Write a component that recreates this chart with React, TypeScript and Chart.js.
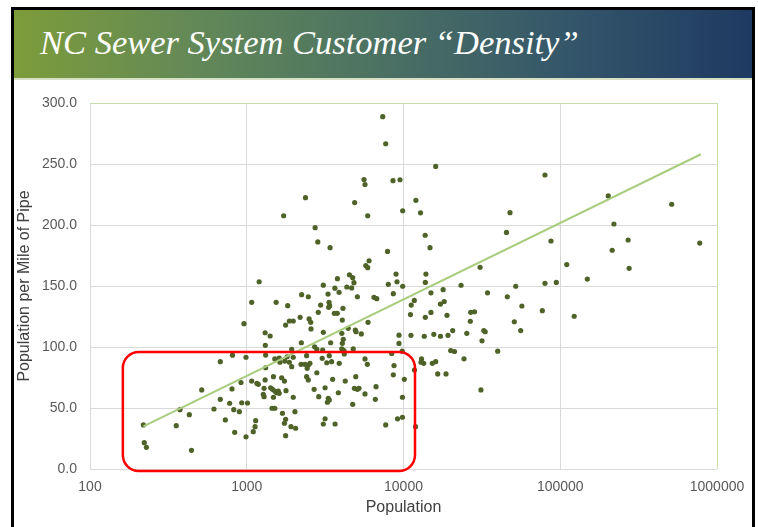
import React, { useEffect, useRef } from "react";
import { Chart, registerables } from "chart.js";

Chart.register(...registerables);

// Population served by each sewer system (x) and population per mile of pipe (y)
const population = [
  7370, 7700, 16050, 79900, 5600, 5680, 8570, 9500, 2370, 4880,
  12000, 202500, 514000, 1720, 5910, 9880, 12840, 47800, 2730, 220000,
  13750, 45400, 2840, 3400, 14760, 87300, 271000, 776000, 7910, 214500,
  6030, 5750, 5910, 30800, 110000, 275000, 8960, 13900, 4520, 4740,
  3790, 148800, 1200, 4830, 9090, 13780, 79900, 94400, 3080, 8000,
  23300, 3650, 4350, 4670, 9880, 52000, 17900, 3880, 8610, 14970,
  34350, 2240, 2470, 3300, 5080, 6480, 6750, 45950, 11720, 1075,
  1540, 1825, 2960, 3350, 3380, 3330, 4110, 11200, 18200, 17200,
  56900, 2860, 3620, 3780, 11080, 14970, 26840, 28380, 76850, 2190,
  2500, 2560, 4070, 1870, 1980, 1770, 960, 5940, 13780, 18940,
  26680, 50930, 122700, 2570, 4440, 4930, 4980, 3080, 4040, 5380,
  1310, 1410, 9360, 11160, 13570, 15610, 17220, 19220, 20600, 25340,
  32530, 33200, 55940, 31680, 2230, 3430, 4130, 4070, 9360, 1313,
  1935, 2710, 2800, 3050, 4040, 4170, 4780, 9820, 8410, 20000,
  21160, 39900, 989, 1320, 1510, 1610, 1810, 1750, 1980, 2410,
  3030, 3360, 4190, 5680, 811, 678, 3240, 3480, 3890, 5880,
  8700, 1630, 1870, 2220, 2350, 2470, 2530, 1935, 2430, 1320,
  2800, 8610, 13030, 12930, 13460, 15270, 16050, 24320, 11750, 16530,
  18670, 1480, 1670, 2410, 4960, 919, 1075, 1160, 1185, 1310,
  1740, 2470, 3530, 4250, 10120, 6680, 1290, 1275, 1290, 1420,
  1460, 1510, 1550, 1590, 1610, 1480, 1780, 2690, 3160, 3840,
  4860, 5080, 5200, 5680, 1980, 2880, 3310, 3270, 3360, 6610,
  9850, 31200, 1011, 4740, 1450, 1510, 1690, 2030, 1140, 1130,
  1100, 1770, 1740, 1915, 2050, 3160, 3080, 3660, 7700, 9160,
  9850, 989, 1770, 11930, 516, 805, 678, 778, 929, 618,
  826, 897, 375, 430, 730, 219, 355, 838, 222, 229,
  444,
];

const populationPerMile = [
  288.8, 266.6, 248.0, 241.0, 237.3, 233.2, 236.3, 237.1, 222.4, 218.4,
  220.2, 223.8, 217.0, 207.6, 207.6, 211.7, 210.0, 210.1, 197.8, 200.8,
  191.6, 193.9, 186.1, 181.4, 181.4, 186.9, 187.7, 185.2, 178.3, 179.3,
  170.7, 166.8, 165.0, 165.3, 167.6, 164.5, 159.8, 159.8, 159.2, 156.8,
  156.0, 155.7, 153.5, 152.7, 153.5, 152.9, 152.2, 152.9, 150.7, 151.4,
  150.6, 148.2, 149.2, 148.4, 149.8, 149.8, 147.0, 144.8, 143.7, 144.4,
  144.4, 142.9, 141.2, 143.4, 141.2, 140.7, 139.6, 141.2, 138.2, 136.6,
  136.6, 133.9, 134.4, 136.6, 133.9, 132.5, 131.7, 134.4, 137.3, 135.2,
  133.6, 128.4, 127.6, 127.6, 126.6, 128.3, 128.4, 128.9, 129.8, 124.3,
  123.0, 120.2, 122.1, 121.3, 121.3, 118.0, 119.1, 120.2, 124.3, 126.0,
  121.1, 120.7, 125.2, 114.8, 115.3, 113.9, 112.5, 112.0, 111.2, 110.7,
  111.7, 109.0, 109.7, 109.6, 108.8, 110.4, 108.8, 109.6, 113.5, 111.2,
  113.5, 112.5, 113.5, 105.1, 103.5, 103.5, 106.3, 103.0, 102.9, 101.4,
  98.1, 100.2, 98.1, 97.5, 98.4, 97.0, 98.4, 96.6, 94.7, 97.1,
  96.3, 96.6, 91.6, 93.4, 90.2, 91.0, 92.0, 88.5, 91.6, 92.9,
  90.7, 92.9, 94.3, 90.2, 93.3, 88.0, 87.1, 88.0, 86.6, 85.8,
  84.8, 87.5, 87.5, 85.8, 85.8, 85.2, 86.6, 83.9, 82.5, 83.0,
  78.9, 77.2, 90.2, 87.5, 86.6, 86.6, 88.0, 90.3, 81.1, 77.9,
  77.9, 75.7, 74.8, 75.7, 75.7, 70.9, 72.1, 70.2, 69.4, 73.0,
  72.1, 73.0, 73.5, 72.1, 73.5, 67.5, 66.1, 61.2, 59.3, 66.6,
  65.3, 63.9, 62.5, 63.9, 62.0, 58.8, 64.2, 65.3, 66.6, 62.5,
  66.1, 65.3, 66.1, 61.5, 58.8, 59.3, 58.0, 54.7, 56.6, 57.1,
  58.8, 64.8, 54.1, 53.0, 49.8, 49.8, 45.7, 47.0, 39.6, 34.7,
  30.6, 40.7, 37.5, 34.7, 33.4, 41.2, 36.9, 36.9, 36.1, 41.1,
  42.4, 26.4, 27.3, 34.7, 64.8, 65.6, 57.1, 53.9, 54.3, 49.2,
  48.6, 47.0, 48.6, 44.5, 40.2, 36.1, 35.5, 30.1, 21.6, 17.8,
  15.3,
];

// Logarithmic trendline endpoints (straight on a log x axis)
const trendPopulation = [219, 790000];
const trendPerMile = [35.0, 258.0];

const xTickValues = [100, 1000, 10000, 100000, 1000000];
const yTickValues = [0, 50, 100, 150, 200, 250, 300];

// Red highlight box (data coordinates)
const highlightPopulation = [162, 11840];
const highlightPerMile = [-1.6, 95.9];

const TITLE = "NC Sewer System Customer \u201cDensity\u201d";
const X_TITLE = "Population";
const Y_TITLE = "Population per Mile of Pipe";

export default function App() {
  const canvasRef = useRef<HTMLCanvasElement | null>(null);

  useEffect(() => {
    const canvas = canvasRef.current;
    if (!canvas) return;

    const highlightPlugin = {
      id: "highlightBox",
      afterDatasetsDraw(chart: any) {
        const { ctx, scales } = chart;
        const xs = scales.x;
        const ys = scales.y;
        const x1 = xs.getPixelForValue(highlightPopulation[0]);
        const x2 = xs.getPixelForValue(highlightPopulation[1]);
        const y1 = ys.getPixelForValue(highlightPerMile[1]);
        const y2 = ys.getPixelForValue(highlightPerMile[0]);
        const r = 16;
        ctx.save();
        ctx.beginPath();
        ctx.moveTo(x1 + r, y1);
        ctx.lineTo(x2 - r, y1);
        ctx.arcTo(x2, y1, x2, y1 + r, r);
        ctx.lineTo(x2, y2 - r);
        ctx.arcTo(x2, y2, x2 - r, y2, r);
        ctx.lineTo(x1 + r, y2);
        ctx.arcTo(x1, y2, x1, y2 - r, r);
        ctx.lineTo(x1, y1 + r);
        ctx.arcTo(x1, y1, x1 + r, y1, r);
        ctx.closePath();
        ctx.strokeStyle = "#FF0000";
        ctx.lineWidth = 2.5;
        ctx.stroke();
        ctx.restore();
      },
    };

    const gray = "#D9D9D9";
    const green = "#C9DDA8";

    const chart = new Chart(canvas, {
      type: "scatter",
      data: {
        datasets: [
          {
            label: "Trend",
            data: trendPopulation.map((v, i) => ({ x: v, y: trendPerMile[i] })),
            showLine: true,
            borderColor: "#A9CD7F",
            backgroundColor: "#A9CD7F",
            borderWidth: 2,
            pointRadius: 0,
            fill: false,
          },
          {
            label: "Systems",
            data: population.map((v, i) => ({ x: v, y: populationPerMile[i] })),
            backgroundColor: "#4F6228",
            borderColor: "#4F6228",
            borderWidth: 0,
            pointRadius: 2.6,
          },
        ],
      },
      options: {
        animation: false,
        responsive: false,
        devicePixelRatio: 1,
        layout: { padding: { left: 13, top: 103, right: 41, bottom: 9.5 } },
        plugins: {
          legend: { display: false },
          tooltip: { enabled: false },
        },
        scales: {
          x: {
            type: "logarithmic",
            min: 100,
            max: 1000000,
            afterBuildTicks: (scale: any) => {
              scale.ticks = xTickValues.map((v) => ({ value: v }));
            },
            afterFit: (scale: any) => {
              scale.height = 48.5;
            },
            ticks: {
              autoSkip: false,
              maxRotation: 0,
              padding: 10,
              color: "#595959",
              font: { size: 14 },
              callback: (v: any) => String(v),
            },
            grid: {
              drawTicks: false,
              color: (c: any) => (c.tick && c.tick.value === 1000000 ? green : gray),
            },
            border: { display: false },
            title: {
              display: true,
              text: X_TITLE,
              color: "#404040",
              font: { size: 16 },
              padding: { top: 0, bottom: 0 },
            },
          },
          y: {
            min: 0,
            max: 300,
            afterBuildTicks: (scale: any) => {
              scale.ticks = yTickValues.map((v) => ({ value: v }));
            },
            afterFit: (scale: any) => {
              scale.width = 77;
            },
            ticks: {
              padding: 13,
              color: "#595959",
              font: { size: 14 },
              callback: (v: any) => Number(v).toFixed(1),
            },
            grid: {
              drawTicks: false,
              color: (c: any) => (c.tick && c.tick.value === 300 ? green : gray),
            },
            border: { display: false },
            title: {
              display: true,
              text: Y_TITLE,
              color: "#404040",
              font: { size: 16 },
              padding: { top: 2, bottom: 0 },
            },
          },
        },
      },
      plugins: [highlightPlugin],
    } as any);

    return () => chart.destroy();
  }, []);

  Chart.defaults.font.family = "'Liberation Sans', Arial, sans-serif";

  return (
    <div
      style={{
        position: "fixed",
        left: 0,
        top: 0,
        width: 758,
        height: 527,
        background: "#ffffff",
        overflow: "hidden",
      }}
    >
      <div
        style={{
          position: "absolute",
          left: 11,
          top: 7,
          width: 744,
          height: 560,
          boxSizing: "border-box",
          borderTop: "3px solid #000",
          borderLeft: "3px solid #000",
          borderRight: "3px solid #000",
          background: "#fff",
        }}
      >
        <div
          style={{
            position: "absolute",
            left: 0,
            top: 0,
            right: 0,
            height: 68,
            background:
              "linear-gradient(to right, #7D9C3A 0%, #628858 25%, #4B7163 50%, #34566A 75%, #1E3A62 100%)",
            borderBottom: "2px solid #D5E0C4",
          }}
        >
          <div
            style={{
              position: "absolute",
              left: 26,
              top: 15,
              fontFamily: "'Liberation Serif', 'Times New Roman', serif",
              fontStyle: "italic",
              fontSize: 34.5,
              lineHeight: "34.5px",
              color: "#ffffff",
              whiteSpace: "nowrap",
            }}
          >
            {TITLE}
          </div>
        </div>
      </div>
      <canvas
        ref={canvasRef}
        width={758}
        height={527}
        style={{ position: "absolute", left: 0, top: 0, width: 758, height: 527 }}
      />
    </div>
  );
}
